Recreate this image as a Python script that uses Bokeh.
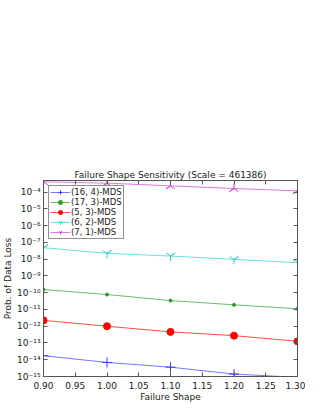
from bokeh.plotting import figure
from bokeh.models import (FixedTicker, NumeralTickFormatter, CustomJSTickFormatter,
                          LinearAxis, LogAxis, Legend, LegendItem, Range1d)
from bokeh.embed import file_html
from bokeh.resources import INLINE
import math

# ---- data ----
shape = [0.90, 1.00, 1.10, 1.20, 1.30]
mds_16_4 = [1.74e-14, 6.9e-15, 3.6e-15, 1.4e-15, 8.9e-16]
mds_17_3 = [1.55e-10, 7.8e-11, 3.4e-11, 1.9e-11, 1.1e-11]
mds_5_3 = [2.24e-12, 1.0e-12, 4.6e-13, 2.75e-13, 1.26e-13]
mds_6_2 = [4.9e-8, 2.24e-8, 1.55e-8, 9.8e-9, 6.2e-9]
mds_7_1 = [4.17e-4, 3.47e-4, 2.4e-4, 1.66e-4, 1.2e-4]
series_names = ["(16, 4)-MDS", "(17, 3)-MDS", "(5, 3)-MDS", "(6, 2)-MDS", "(7, 1)-MDS"]
x_ticks = [0.90, 0.95, 1.00, 1.05, 1.10, 1.15, 1.20, 1.25, 1.30]
y_ticks = [10.0 ** e for e in range(-15, -3)]

FONT = "DejaVu Sans"
TXT = "#222222"
AX = "#555555"

p = figure(width=305, height=405, y_axis_type="log", output_backend="svg",
           toolbar_location=None, x_range=Range1d(0.90, 1.30),
           y_range=Range1d(1e-15, 5e-4),
           min_border_left=35, min_border_right=8, min_border_top=180,
           min_border_bottom=29)
p.title.text = "Failure Shape Sensitivity (Scale = 461386)"
p.title.align = "center"
p.title.text_font = FONT
p.title.text_font_size = "9px"
p.title.text_font_style = "normal"
p.title.text_color = TXT
p.title.standoff = 1
p.grid.visible = False
p.outline_line_color = AX
p.background_fill_color = "white"
p.border_fill_color = "white"

xa = p.xaxis[0]
xa.ticker = FixedTicker(ticks=x_ticks)
xa.formatter = NumeralTickFormatter(format="0.00")
xa.axis_label = "Failure Shape"
ya = p.yaxis[0]
ya.ticker = FixedTicker(ticks=y_ticks)
ya.formatter = CustomJSTickFormatter(code="""
const sup = {'-':'\u207b','0':'\u2070','1':'\u00b9','2':'\u00b2','3':'\u00b3','4':'\u2074','5':'\u2075','6':'\u2076','7':'\u2077','8':'\u2078','9':'\u2079'};
const e = Math.round(Math.log10(tick)).toString();
return '10' + e.split('').map(c => sup[c]).join('');
""")
ya.axis_label = "Prob. of Data Loss"

for ax in (xa, ya):
    ax.axis_label_text_font = FONT
    ax.axis_label_text_font_size = "9px"
    ax.axis_label_text_font_style = "normal"
    ax.axis_label_text_color = TXT
    ax.axis_label_standoff = 1
    ax.major_label_text_font = FONT
    ax.major_label_text_font_size = "9px"
    ax.major_label_text_color = TXT
    ax.major_label_standoff = 3
    ax.major_tick_in = 4
    ax.major_tick_out = 0
    ax.minor_tick_line_color = None
    ax.axis_line_color = AX
    ax.major_tick_line_color = AX
xa.major_label_standoff = 5
xa.axis_label_standoff = 0

blank = CustomJSTickFormatter(code="return '';")
top = LinearAxis(ticker=FixedTicker(ticks=x_ticks), formatter=blank,
                 major_tick_in=4, major_tick_out=0, minor_tick_line_color=None,
                 axis_line_color=AX, major_tick_line_color=AX, major_label_standoff=0)
right = LogAxis(ticker=FixedTicker(ticks=y_ticks), formatter=blank,
                major_tick_in=4, major_tick_out=0, minor_tick_line_color=None,
                axis_line_color=AX, major_tick_line_color=AX, major_label_standoff=0)
p.add_layout(top, "above")
p.add_layout(right, "right")

styles = [
    (mds_16_4, "#3a3aff", dict(marker="cross", size=10, line_width=1)),
    (mds_17_3, "#2e9a2e", dict(marker="circle", size=3, line_width=1)),
    (mds_5_3, "#ff0000", dict(marker="circle", size=7, line_width=1)),
    (mds_6_2, "#2ccfcf", dict(marker="y", size=10, line_width=1)),
    (mds_7_1, "#d040d0", dict(marker="y", size=10, line_width=1, angle=math.pi)),
]
items = []
for (vals, col, mk), name in zip(styles, series_names):
    l = p.line(shape, vals, line_color=col, line_width=1, line_alpha=0.7)
    s = p.scatter(shape, vals, line_color=col, fill_color=col, **mk)
    items.append(LegendItem(label=name, renderers=[l, s]))

leg = Legend(items=items, location="top_left")
leg.label_text_font = FONT
leg.label_text_font_size = "8.5px"
leg.label_text_color = TXT
leg.label_height = 10
leg.glyph_height = 10
leg.glyph_width = 20
leg.label_standoff = 1
leg.spacing = 0
leg.padding = 1
leg.margin = 5
leg.border_line_color = "#222222"
leg.border_line_width = 1
leg.background_fill_color = "white"
leg.background_fill_alpha = 1
p.add_layout(leg)

open("out.html", "w").write(file_html(p, INLINE))
